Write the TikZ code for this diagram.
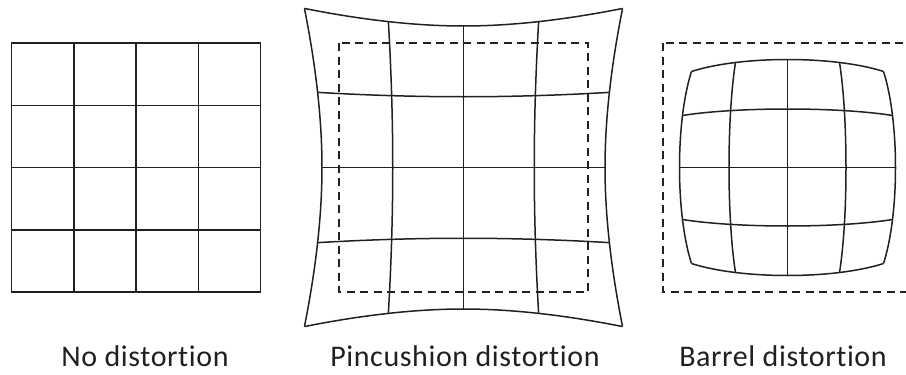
\documentclass[tikz,border=0pt]{standalone}
\usepackage{fontspec}
\setmainfont{Carlito}[LetterSpace=2,Ligatures=NoCommon]
\usepackage{tikz}
\usepackage{xcolor}
\definecolor{ink}{HTML}{231F20}
\tikzset{
  gridline/.style={line width=1.5pt,draw=ink,line join=round},
  frame/.style={line width=1.8pt,draw=ink},
  guide/.style={line width=1.4pt,draw=ink,dash pattern=on 8pt off 5.5pt},
  caption/.style={font=\fontsize{30}{34}\selectfont,text=ink,anchor=base,inner sep=0pt},
}

\begin{document}
\begin{tikzpicture}[x=1pt,y=-1pt]
  \useasboundingbox (0,0) rectangle (906,375);
  \clip (0,0) rectangle (906,375);

  \foreach \i in {1,2,3} {
    \draw[gridline] ({11.5+62.25*\i},43) -- ({11.5+62.25*\i},292);
    \draw[gridline] (11.5,{43+62.25*\i}) -- (260.5,{43+62.25*\i});
  }
  \draw[frame] (11.5,43) rectangle (260.5,292);

  \draw[guide] (339,43) rectangle (588,292);
  \foreach \u in {-1,-0.5,0,0.5,1} {
    \draw[gridline] plot[domain=-1:1,samples=41,variable=\t]
      ({463.5+141.5*(\u)*(1+0.124*abs(\u)*(\t)*(\t))},{167.5+141.5*(\t)*(1+0.124*abs(\t)*(\u)*(\u))});
    \draw[gridline] plot[domain=-1:1,samples=41,variable=\t]
      ({463.5+141.5*(\t)*(1+0.124*abs(\t)*(\u)*(\u))},{167.5+141.5*(\u)*(1+0.124*abs(\u)*(\t)*(\t))});
  }

  \draw[guide] (663,43) rectangle (912,292);
  \foreach \u in {-1,-0.5,0,0.5,1} {
    \draw[gridline] plot[domain=-1:1,samples=41,variable=\t]
      ({787.5+(120*(\u)-12*(\u)*(\u)*(\u))*(1-0.111*(\t)*(\t))},{167.5+(120*(\t)-12*(\t)*(\t)*(\t))*(1-0.111*(\u)*(\u))});
    \draw[gridline] plot[domain=-1:1,samples=41,variable=\t]
      ({787.5+(120*(\t)-12*(\t)*(\t)*(\t))*(1-0.111*(\u)*(\u))},{167.5+(120*(\u)-12*(\u)*(\u)*(\u))*(1-0.111*(\t)*(\t))});
  }

  \node[caption] (plain) at (145,366.7) {No distortion};
  \node[caption] (pincushion) at (465,366.7) {Pincushion distortion};
  \node[caption] (barrel) at (783,366.7) {Barrel distortion};
\end{tikzpicture}
\end{document}
